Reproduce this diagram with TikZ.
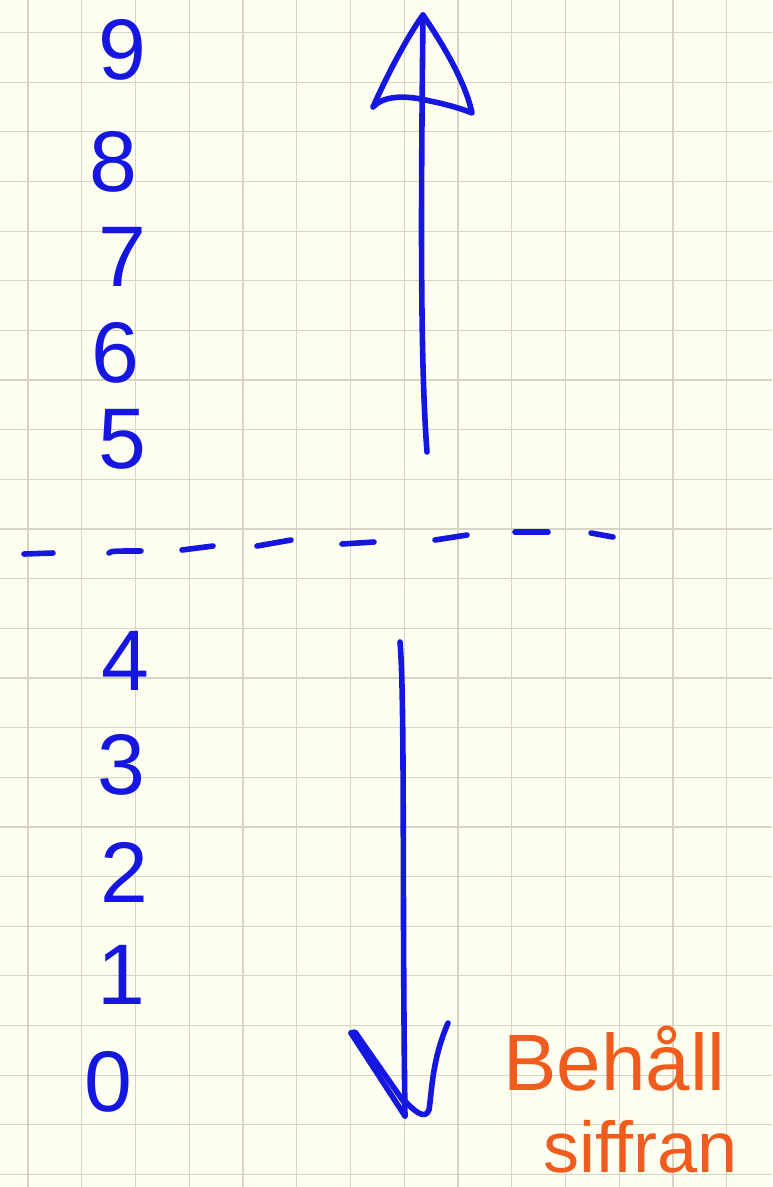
\documentclass[tikz,border=0pt]{standalone}
\usepackage{fontspec}
\setmainfont{Liberation Sans}
\definecolor{paper}{RGB}{254,254,240}
\definecolor{gridc}{RGB}{214,212,196}
\definecolor{ink}{RGB}{22,22,225}
\definecolor{orangeink}{RGB}{240,92,30}
\tikzset{
  gridline/.style={draw=gridc, line width=1.2pt},
  pen/.style={draw=ink, line width=5.6pt, line cap=round, line join=round},
  digit/.style={text=ink, inner sep=0pt, anchor=center, font=\fontsize{86}{90}\selectfont},
  note/.style={text=orangeink, inner sep=0pt, anchor=base west},
}
\begin{document}
\begin{tikzpicture}[x={(1pt,0)}, y={(0,-1pt)}]
\useasboundingbox (0,0) rectangle (772,1187);
\fill[paper] (0,0) rectangle (772,1187);
% grid
\foreach \k in {0,...,13} {
  \draw[gridline] ({28+53.75*\k},0) -- ({28+53.75*\k},1187);
}
\foreach \k in {0,...,23} {
  \draw[gridline] (0,{32.5+49.65*\k}) -- (772,{32.5+49.65*\k});
}
% digits
\node[digit] (d9) at (122,50) {9};
\node[digit] (d8) at (113,162) {8};
\node[digit] (d7) at (122,257) {7};
\node[digit] (d6) at (115,353) {6};
\node[digit] (d5) at (122,439) {5};
\node[digit] (d4) at (125,661) {4};
\node[digit] (d3) at (121,765) {3};
\node[digit] (d2) at (124,872) {2};
\node[digit] (d1) at (121,975) {1};
\node[digit] (d0) at (108,1082) {0};
% dashed line (hand drawn dashes)
\draw[pen] (24,554) -- (53,553);
\draw[pen] (109,553) .. controls (112,551) .. (141,551);
\draw[pen] (182,550) -- (213,546);
\draw[pen] (257,546) -- (291,540);
\draw[pen] (342,544) -- (374,542);
\draw[pen] (435,540) -- (467,535);
\draw[pen] (515,532) -- (548,532);
\draw[pen] (591,533) -- (613,537);
% up arrow
\coordinate (upbot) at (427,452);
\coordinate (uptip) at (423,15);
\coordinate (upl) at (373,107);
\coordinate (upr) at (472,113);
\draw[pen] (upbot) .. controls (420,360) and (421,200) .. (uptip);
\draw[pen] (uptip) .. controls (405,40) and (385,80) .. (upl)
  .. controls (385,94) and (410,96) .. (430,101)
  .. controls (450,105) and (465,110) .. (upr)
  .. controls (465,80) and (440,40) .. (uptip);
% down arrow
\coordinate (dntop) at (400,642);
\coordinate (dnbot) at (405,1116);
\coordinate (dnl) at (351,1033);
\coordinate (dnr) at (448,1023);
\draw[pen] (dntop) .. controls (405,700) and (402,900) .. (dnbot);
\draw[pen] (dnl) -- (dnbot);
\draw[pen] (dnl) -- ++(4,-1) -- (406,1105);
\draw[pen] (404,1100) .. controls (415,1112) and (425,1120) .. (429,1110)
  .. controls (432,1090) and (432,1060) .. (dnr);
% note
\node[note, font=\fontsize{80}{90}\selectfont] (n1) at (503,1090) {Behåll};
\node[note, font=\fontsize{72}{80}\selectfont] (n2) at (543,1172) {siffran};
\end{tikzpicture}
\end{document}
